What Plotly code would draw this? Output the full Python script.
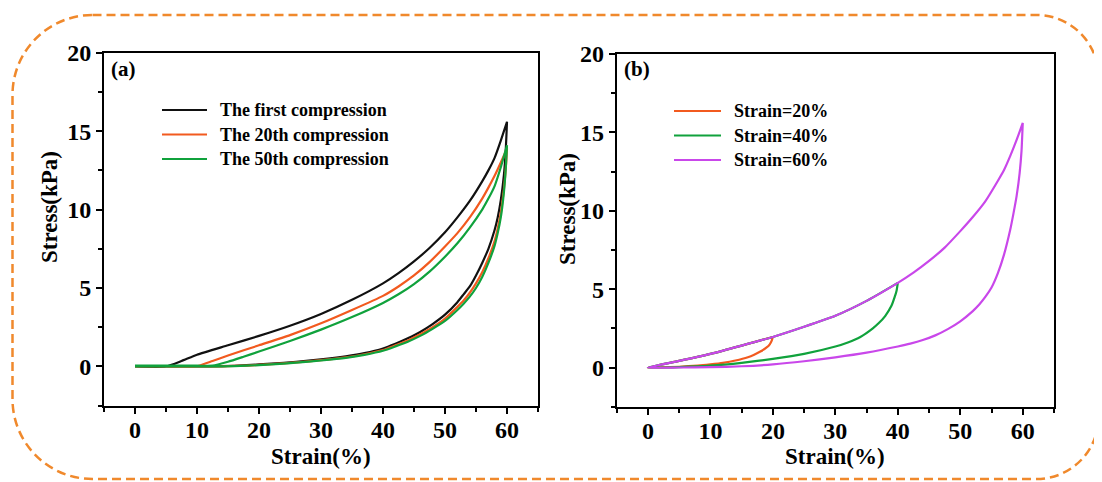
import plotly.graph_objects as go

# The page body has an 8px default margin; design in window pixels and shift.
OFF = 8
W, H = 1102 - OFF, 482 - OFF

# ---------------- Panel (a): cyclic compression ----------------
first_load_strain = [0, 5, 7.5, 10, 15, 20, 25, 30, 35, 40, 42.5, 45, 47.5, 50, 52, 54, 56, 57, 58, 59, 60]
first_load_stress = [0, 0, 0.35, 0.75, 1.35, 1.95, 2.6, 3.35, 4.25, 5.3, 5.95, 6.7, 7.55, 8.55, 9.5, 10.55, 11.8, 12.5, 13.3, 14.4, 15.6]
first_unload_strain = [60, 59.8, 59.5, 59, 58.5, 58, 57, 56, 55, 54, 53, 52, 50, 48, 46, 44, 42, 40, 37, 34, 30, 26, 22, 18, 14, 10, 5, 0]
first_unload_stress = [15.6, 13.8, 12.2, 10.6, 9.5, 8.7, 7.5, 6.6, 5.8, 5.1, 4.6, 4.1, 3.3, 2.7, 2.2, 1.8, 1.45, 1.15, 0.85, 0.65, 0.45, 0.3, 0.18, 0.08, 0.02, 0, 0, 0]

c20_load_strain = [0, 5, 9.8, 12.5, 15, 20, 25, 30, 35, 40, 42.5, 45, 47.5, 50, 52, 54, 56, 57, 58, 59, 60]
c20_load_stress = [0, 0, 0, 0.35, 0.7, 1.35, 2.0, 2.75, 3.6, 4.5, 5.1, 5.8, 6.65, 7.65, 8.5, 9.5, 10.7, 11.4, 12.15, 13.0, 13.9]
c20_unload_strain = [60, 59.8, 59.5, 59, 58.5, 58, 57, 56, 55, 54, 53, 52, 50, 48, 46, 44, 42, 40, 37, 34, 30, 26, 22, 18, 14, 10, 5, 0]
c20_unload_stress = [13.9, 12.6, 11.3, 9.8, 8.8, 8.0, 6.9, 6.0, 5.3, 4.7, 4.2, 3.8, 3.05, 2.5, 2.05, 1.65, 1.35, 1.05, 0.78, 0.58, 0.4, 0.26, 0.15, 0.06, 0.01, 0, 0, 0]

c50_load_strain = [0, 5, 10, 12.5, 15, 17.5, 20, 25, 30, 35, 40, 42.5, 45, 47.5, 50, 52, 54, 56, 57, 58, 59, 60]
c50_load_stress = [0.05, 0.05, 0.05, 0.05, 0.3, 0.62, 0.95, 1.62, 2.35, 3.15, 4.05, 4.6, 5.25, 6.05, 7.0, 7.85, 8.85, 10.0, 10.7, 11.5, 12.7, 14.1]
c50_unload_strain = [60, 59.8, 59.5, 59, 58.5, 58, 57, 56, 55, 54, 53, 52, 50, 48, 46, 44, 42, 40, 37, 34, 30, 26, 22, 18, 14, 10, 5, 0]
c50_unload_stress = [14.1, 12.6, 11.1, 9.5, 8.5, 7.7, 6.6, 5.7, 5.0, 4.45, 4.0, 3.6, 2.9, 2.4, 1.95, 1.58, 1.28, 1.0, 0.74, 0.55, 0.38, 0.24, 0.13, 0.05, 0.01, 0, 0, 0]

names_a = ["The first compression", "The 20th compression", "The 50th compression"]
colors_a = ["#111111", "#F25A1F", "#10A23C"]

# ---------------- Panel (b): different strains ----------------
s20_load_strain = [0, 5, 10, 15, 20]
s20_load_stress = [0, 0.42, 0.87, 1.4, 1.95]
s20_unload_strain = [20, 19.8, 19.5, 19, 18, 17, 16, 14, 12, 10, 8, 5, 2, 0]
s20_unload_stress = [1.95, 1.7, 1.48, 1.28, 1.02, 0.82, 0.66, 0.45, 0.3, 0.2, 0.12, 0.05, 0.01, 0]

s40_load_strain = [0, 5, 10, 15, 20, 25, 30, 35, 40]
s40_load_stress = [0, 0.42, 0.87, 1.4, 1.95, 2.6, 3.3, 4.25, 5.4]
s40_unload_strain = [40, 39.8, 39.5, 39, 38, 37, 36, 34, 32, 30, 25, 20, 15, 10, 5, 0]
s40_unload_stress = [5.4, 4.9, 4.5, 3.95, 3.3, 2.85, 2.5, 1.95, 1.6, 1.34, 0.87, 0.55, 0.3, 0.12, 0.03, 0]

s60_load_strain = [0, 5, 10, 15, 20, 25, 30, 35, 40, 42.5, 45, 47.5, 50, 52, 54, 56, 57, 58, 59, 60]
s60_load_stress = [0, 0.42, 0.87, 1.4, 1.95, 2.6, 3.3, 4.25, 5.4, 6.05, 6.8, 7.65, 8.7, 9.6, 10.6, 11.9, 12.6, 13.5, 14.5, 15.6]
s60_unload_strain = [60, 59.8, 59.5, 59, 58.5, 58, 57, 56, 55, 54, 53, 52, 50, 48, 46, 44, 42, 40, 35, 30, 25, 20, 15, 10, 5, 0]
s60_unload_stress = [15.6, 13.8, 12.4, 10.9, 9.8, 8.8, 7.2, 6.0, 5.1, 4.5, 4.0, 3.6, 2.95, 2.45, 2.05, 1.75, 1.52, 1.34, 0.95, 0.65, 0.4, 0.2, 0.08, 0.02, 0, 0]

names_b = ["Strain=20%", "Strain=40%", "Strain=60%"]
colors_b = ["#F25A1F", "#10A23C", "#C947EA"]

FONT = "Liberation Serif, Times New Roman, serif"

series_a = [
    (first_load_strain + first_unload_strain, first_load_stress + first_unload_stress),
    (c20_load_strain + c20_unload_strain, c20_load_stress + c20_unload_stress),
    (c50_load_strain + c50_unload_strain, c50_load_stress + c50_unload_stress),
]
series_b = [
    (s20_load_strain + s20_unload_strain, s20_load_stress + s20_unload_stress),
    (s40_load_strain + s40_unload_strain, s40_load_stress + s40_unload_stress),
    (s60_load_strain + s60_unload_strain, s60_load_stress + s60_unload_stress),
]

fig = go.Figure()
for (xs, ys), nm, col in zip(series_a, names_a, colors_a):
    fig.add_trace(go.Scatter(x=xs, y=ys, name=nm, mode="lines",
                             line=dict(color=col, width=2.2, shape="spline", smoothing=0.5),
                             xaxis="x", yaxis="y", showlegend=False))
for (xs, ys), nm, col in zip(series_b, names_b, colors_b):
    fig.add_trace(go.Scatter(x=xs, y=ys, name=nm, mode="lines",
                             line=dict(color=col, width=2.2, shape="spline", smoothing=0.5),
                             xaxis="x2", yaxis="y2", showlegend=False))


def px(x):
    return (x - OFF) / W


def py(y):
    return 1 - (y - OFF) / H


# axis boxes in window pixels: left, right, top, bottom
ax_a = (104, 538, 52.7, 405.7)
ax_b = (616.7, 1054, 54, 406.7)

TICKFONT = dict(family=FONT, size=24, color="black", weight="bold")

common_x = dict(range=[-5, 65], tickvals=[0, 10, 20, 30, 40, 50, 60],
                ticks="outside", ticklen=6, tickwidth=2, tickcolor="black",
                showline=True, linewidth=2, linecolor="black", mirror=True,
                showgrid=False, zeroline=False, automargin=False,
                tickfont=TICKFONT,
                minor=dict(ticks="outside", ticklen=4, tickwidth=2, tickcolor="black",
                           tickvals=[-5, 5, 15, 25, 35, 45, 55, 65], showgrid=False),
                ticklabelstandoff=-5)
common_y = dict(range=[-2.5, 20], tickvals=[0, 5, 10, 15, 20],
                ticks="outside", ticklen=6, tickwidth=2, tickcolor="black",
                showline=True, linewidth=2, linecolor="black", mirror=True,
                showgrid=False, zeroline=False, automargin=False,
                tickfont=TICKFONT,
                minor=dict(ticks="outside", ticklen=4, tickwidth=2, tickcolor="black",
                           tickvals=[-2.5, 2.5, 7.5, 12.5, 17.5], showgrid=False))

fig.update_layout(
    width=W, height=H,
    margin=dict(l=0, r=0, t=0, b=0),
    paper_bgcolor="white", plot_bgcolor="white",
    xaxis=dict(domain=[px(ax_a[0]), px(ax_a[1])], anchor="y", **common_x),
    yaxis=dict(domain=[py(ax_a[3]), py(ax_a[2])], anchor="x", **common_y),
    xaxis2=dict(domain=[px(ax_b[0]), px(ax_b[1])], anchor="y2", **common_x),
    yaxis2=dict(domain=[py(ax_b[3]), py(ax_b[2])], anchor="x2", **common_y),
    showlegend=False,
)

annotations = []
shapes = []

# axis titles
for cx, cy in [(49, 207), (567, 209)]:
    annotations.append(dict(x=px(cx), y=py(cy), xref="paper", yref="paper", text="Stress(kPa)",
                            textangle=-90, showarrow=False, xanchor="center", yanchor="middle",
                            font=dict(family=FONT, size=23, color="black", weight="bold")))
for cx, cy in [(321, 456), (835, 456)]:
    annotations.append(dict(x=px(cx), y=py(cy), xref="paper", yref="paper", text="Strain(%)",
                            showarrow=False, xanchor="center", yanchor="middle",
                            font=dict(family=FONT, size=23, color="black", weight="bold")))

# panel labels
for lx, lab in [(109, "(a)"), (622, "(b)")]:
    annotations.append(dict(x=px(lx), y=py(69), xref="paper", yref="paper", text=lab,
                            showarrow=False, xanchor="left", yanchor="middle",
                            font=dict(family=FONT, size=21, color="black", weight="bold")))

# legends
leg_a = dict(x0=162, x1=207, tx=218, rows=[110, 134.5, 159])
leg_b = dict(x0=674, x1=721, tx=732, rows=[111, 135.5, 160])
for leg, names, cols in [(leg_a, names_a, colors_a), (leg_b, names_b, colors_b)]:
    for ry, nm, col in zip(leg["rows"], names, cols):
        shapes.append(dict(type="line", xref="paper", yref="paper",
                           x0=px(leg["x0"]), x1=px(leg["x1"]), y0=py(ry), y1=py(ry),
                           line=dict(color=col, width=2.2)))
        annotations.append(dict(x=px(leg["tx"]), y=py(ry), xref="paper", yref="paper", text=nm,
                                showarrow=False, xanchor="left", yanchor="middle",
                                font=dict(family=FONT, size=18, color="black", weight="bold")))

# dashed rounded frame
L, T, R, B = 12.5, 15, 1098.5, 479
rl, rr = 80, 62
k = 0.5523


def P(x, y):
    return f"{px(x):.5f},{py(y):.5f}"


path = (
    f"M{P(L + rl, T)} L{P(R - rr, T)} "
    f"C{P(R - rr + k * rr, T)} {P(R, T + rr - k * rr)} {P(R, T + rr)} "
    f"L{P(R, B - rr)} "
    f"C{P(R, B - rr + k * rr)} {P(R - rr + k * rr, B)} {P(R - rr, B)} "
    f"L{P(L + rl, B)} "
    f"C{P(L + rl - k * rl, B)} {P(L, B - rl + k * rl)} {P(L, B - rl)} "
    f"L{P(L, T + rl)} "
    f"C{P(L, T + rl - k * rl)} {P(L + rl - k * rl, T)} {P(L + rl, T)} Z"
)
shapes.append(dict(type="path", xref="paper", yref="paper", path=path,
                   line=dict(color="#F0892C", width=2.5, dash="9px,5px"),
                   fillcolor="rgba(0,0,0,0)", layer="above"))

fig.update_layout(annotations=annotations, shapes=shapes)

fig.write_html("out.html")
